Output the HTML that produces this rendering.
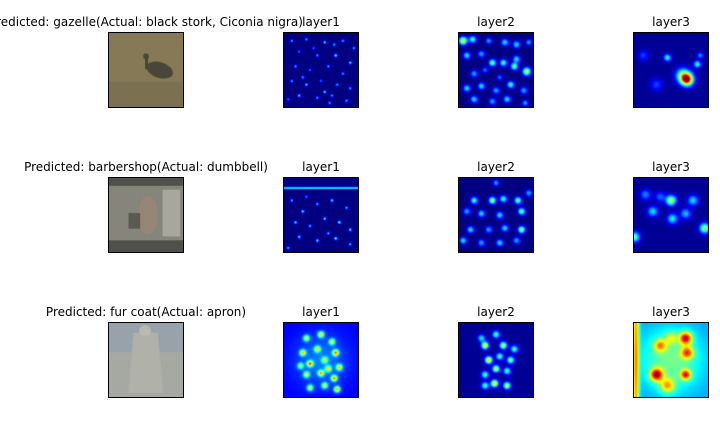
<!DOCTYPE html>
<html><head><meta charset="utf-8">
<style>
body{margin:0;background:#fff;width:720px;height:432px;overflow:hidden;position:relative;font-family:"DejaVu Sans","Liberation Sans",sans-serif;}
.t{position:absolute;font-size:12px;color:#000;white-space:nowrap;transform:translateX(-50%);line-height:14px;}
canvas{position:absolute;width:76px;height:76px;border:1px solid #000;box-sizing:border-box;}
</style></head><body>
<div class="t" style="left:146px;top:15px">Predicted: gazelle(Actual: black stork, Ciconia nigra)</div>
<div class="t" style="left:321px;top:15px">layer1</div>
<div class="t" style="left:496px;top:15px">layer2</div>
<div class="t" style="left:671px;top:15px">layer3</div>
<div class="t" style="left:146px;top:160px">Predicted: barbershop(Actual: dumbbell)</div>
<div class="t" style="left:321px;top:160px">layer1</div>
<div class="t" style="left:496px;top:160px">layer2</div>
<div class="t" style="left:671px;top:160px">layer3</div>
<div class="t" style="left:146px;top:305px">Predicted: fur coat(Actual: apron)</div>
<div class="t" style="left:321px;top:305px">layer1</div>
<div class="t" style="left:496px;top:305px">layer2</div>
<div class="t" style="left:671px;top:305px">layer3</div>
<script>
// blobs: [x, y, radius, amplitude] in unit image coords
const r1l1 = [[0.1,0.1,0.015,0.5],[0.3,0.08,0.015,0.5],[0.55,0.12,0.015,0.6],[0.8,0.1,0.015,0.5],[0.2,0.25,0.015,0.4],[0.45,0.3,0.015,0.5],[0.7,0.3,0.015,0.7],[0.9,0.4,0.015,0.6],[0.15,0.45,0.015,0.5],[0.35,0.5,0.015,0.4],[0.6,0.45,0.015,0.5],[0.8,0.55,0.015,0.5],[0.1,0.65,0.015,0.5],[0.3,0.7,0.015,0.6],[0.5,0.65,0.015,0.4],[0.72,0.7,0.015,0.5],[0.9,0.75,0.015,0.5],[0.2,0.85,0.015,0.6],[0.45,0.88,0.015,0.5],[0.65,0.85,0.015,0.5],[0.85,0.92,0.015,0.5],[0.4,0.2,0.015,0.4],[0.25,0.6,0.015,0.5],[0.55,0.8,0.015,0.6],[0.62,0.95,0.015,0.5],[0.05,0.9,0.015,0.4],[0.95,0.2,0.015,0.5],[0.68,0.15,0.015,0.5]];
const r1l2 = [[0.05,0.1,0.04,1.0],[0.18,0.08,0.035,0.7],[0.4,0.1,0.03,0.5],[0.62,0.12,0.035,0.6],[0.78,0.15,0.035,0.6],[0.95,0.12,0.03,0.5],[0.1,0.3,0.035,0.6],[0.3,0.28,0.035,0.5],[0.45,0.4,0.035,0.8],[0.6,0.4,0.035,0.7],[0.78,0.35,0.035,0.6],[0.92,0.52,0.04,0.95],[0.75,0.45,0.035,0.8],[0.2,0.55,0.035,0.5],[0.1,0.75,0.035,0.6],[0.3,0.72,0.035,0.6],[0.5,0.78,0.035,0.5],[0.7,0.7,0.035,0.7],[0.88,0.78,0.035,0.5],[0.2,0.9,0.035,0.6],[0.45,0.93,0.035,0.5],[0.65,0.9,0.035,0.6],[0.9,0.95,0.03,0.5],[0.35,0.5,0.03,0.4],[0.55,0.6,0.03,0.4]];
const r1l3 = [[0.72,0.63,0.06,1.0],[0.66,0.57,0.07,0.5],[0.45,0.33,0.035,0.45],[0.86,0.42,0.035,0.45],[0.12,0.3,0.05,0.2],[0.3,0.7,0.06,0.2],[0.9,0.3,0.03,0.3]];
const r2l1 = [[0.5,0.13,0.012,0.55,'h'],[0.1,0.3,0.015,0.5],[0.25,0.45,0.015,0.6],[0.45,0.35,0.015,0.5],[0.65,0.3,0.015,0.6],[0.85,0.4,0.015,0.5],[0.15,0.6,0.015,0.6],[0.35,0.65,0.015,0.5],[0.55,0.55,0.015,0.6],[0.75,0.6,0.015,0.7],[0.9,0.7,0.015,0.6],[0.2,0.8,0.015,0.6],[0.45,0.85,0.015,0.6],[0.7,0.82,0.015,0.7],[0.9,0.9,0.015,0.5],[0.05,0.95,0.015,0.5],[0.6,0.75,0.015,0.5],[0.3,0.25,0.015,0.4]];
const r2l2 = [[0.5,0.06,0.03,0.5],[0.2,0.3,0.035,0.7],[0.45,0.3,0.035,0.9],[0.6,0.28,0.035,0.7],[0.8,0.3,0.035,0.8],[0.1,0.45,0.035,0.5],[0.3,0.48,0.035,0.6],[0.55,0.5,0.035,0.6],[0.85,0.45,0.035,0.8],[0.15,0.7,0.035,0.6],[0.4,0.7,0.035,0.5],[0.62,0.68,0.035,0.6],[0.85,0.7,0.035,0.9],[0.05,0.85,0.035,0.6],[0.3,0.88,0.035,0.5],[0.55,0.88,0.035,0.6],[0.78,0.85,0.035,0.5],[0.95,0.2,0.035,0.5]];
const r2l3 = [[0.5,0.3,0.05,0.9],[0.15,0.22,0.05,0.4],[0.25,0.45,0.05,0.55],[0.52,0.55,0.05,0.6],[0.7,0.48,0.05,0.5],[0.96,0.68,0.05,0.85],[0.0,0.8,0.05,0.75],[0.8,0.3,0.05,0.55],[0.35,0.25,0.05,0.35]];
const r3l1 = [[0.5,0.5,0.25,0.2],[0.3,0.2,0.03,0.7],[0.5,0.15,0.03,0.8],[0.65,0.25,0.03,0.7],[0.25,0.4,0.03,0.8],[0.45,0.35,0.03,0.7],[0.7,0.4,0.03,0.9],[0.35,0.55,0.03,0.9],[0.55,0.5,0.03,0.6],[0.75,0.6,0.03,0.8],[0.3,0.7,0.03,0.7],[0.5,0.68,0.03,0.8],[0.68,0.75,0.03,0.9],[0.35,0.88,0.03,0.7],[0.55,0.85,0.03,0.7],[0.72,0.9,0.03,0.9],[0.22,0.58,0.03,0.6],[0.6,0.62,0.03,0.7]];
const r3l2 = [[0.35,0.3,0.035,0.9],[0.5,0.15,0.035,0.6],[0.6,0.3,0.035,0.8],[0.75,0.35,0.035,0.6],[0.4,0.5,0.035,0.95],[0.55,0.45,0.035,0.6],[0.7,0.5,0.035,0.7],[0.35,0.7,0.035,0.6],[0.5,0.62,0.035,0.8],[0.65,0.65,0.035,0.6],[0.48,0.82,0.035,0.95],[0.65,0.85,0.035,0.8],[0.35,0.85,0.035,0.6],[0.3,0.2,0.035,0.5]];
const r3l3 = [[0.5,0.5,0.3,0.3],[0.7,0.2,0.06,0.8],[0.72,0.4,0.06,0.6],[0.35,0.3,0.06,0.5],[0.3,0.7,0.06,0.85],[0.45,0.85,0.07,0.5],[0.7,0.7,0.05,0.7],[0.02,0.5,0.03,0.6,'v'],[0.5,0.2,0.06,0.3]];

const cols=[108,283,458,633], rows=[32,177,322];
function jet(v){const c=x=>Math.max(0,Math.min(1,x));return [c(1.5-Math.abs(4*v-3))*255,c(1.5-Math.abs(4*v-2))*255,c(1.5-Math.abs(4*v-1))*255];}
function mk(x,y,name){const c=document.createElement('canvas');c.width=76;c.height=76;c.style.left=x+'px';c.style.top=y+'px';


document.body.appendChild(c);return c;}
function heat(c,blobs,b0,s){const ctx=c.getContext('2d');const im=ctx.createImageData(76,76);
for(let j=0;j<76;j++)for(let i=0;i<76;i++){const u=i/75,w=j/75;let v=b0;
for(const b of blobs){let dx=u-b[0],dy=w-b[1];if(b[4]==='h')dx=0;if(b[4]==='v')dy=0;v+=s*b[3]*Math.exp(-(dx*dx+dy*dy)/(2*b[2]*b[2]));}
v=Math.min(1,v);const k=(j*76+i)*4,col=jet(v);im.data[k]=col[0];im.data[k+1]=col[1];im.data[k+2]=col[2];im.data[k+3]=255;}
ctx.putImageData(im,0,0);}
function photo(c,row){const ctx=c.getContext('2d');
if(row===0){ctx.fillStyle='#857a55';ctx.fillRect(0,0,76,76);ctx.fillStyle='#7b7150';ctx.fillRect(0,50,76,26);
ctx.fillStyle='#4a4538';ctx.beginPath();ctx.ellipse(52,38,14,8,0.3,0,7);ctx.fill();ctx.beginPath();ctx.arc(38,24,3,0,7);ctx.fill();ctx.fillRect(37,25,3,12);}
else if(row===1){ctx.fillStyle='#85857c';ctx.fillRect(0,0,76,76);ctx.fillStyle='#50504a';ctx.fillRect(0,0,76,8);ctx.fillRect(0,64,76,12);
ctx.fillStyle='#a8a79e';ctx.fillRect(55,12,18,48);ctx.fillStyle='#958678';ctx.beginPath();ctx.ellipse(40,38,10,20,0,0,7);ctx.fill();ctx.fillStyle='#5a5a52';ctx.fillRect(20,36,12,16);}
else{ctx.fillStyle='#a6a8a2';ctx.fillRect(0,0,76,76);ctx.fillStyle='#98a2aa';ctx.fillRect(0,0,76,30);ctx.fillStyle='#b0b2aa';ctx.beginPath();ctx.moveTo(25,10);ctx.lineTo(50,10);ctx.lineTo(56,72);ctx.lineTo(20,72);ctx.fill();ctx.fillStyle='#b8bab2';ctx.beginPath();ctx.arc(37,8,6,0,7);ctx.fill();}}
const heats=[[r1l1,r1l2,r1l3],[r2l1,r2l2,r2l3],[r3l1,r3l2,r3l3]];
const bases=[[0,0,0.02],[0,0,0.02],[0.12,0.02,0.28]];
const scales=[[0.65,0.6,0.85],[0.7,0.6,0.6],[0.65,0.7,0.7]];
rows.forEach((y,r)=>{photo(mk(cols[0],y,'input-image-row'+(r+1)),r);
for(let l=0;l<3;l++)heat(mk(cols[l+1],y,'heatmap-row'+(r+1)+'-layer'+(l+1)),heats[r][l],bases[r][l],scales[r][l]);});
</script>
</body></html>
